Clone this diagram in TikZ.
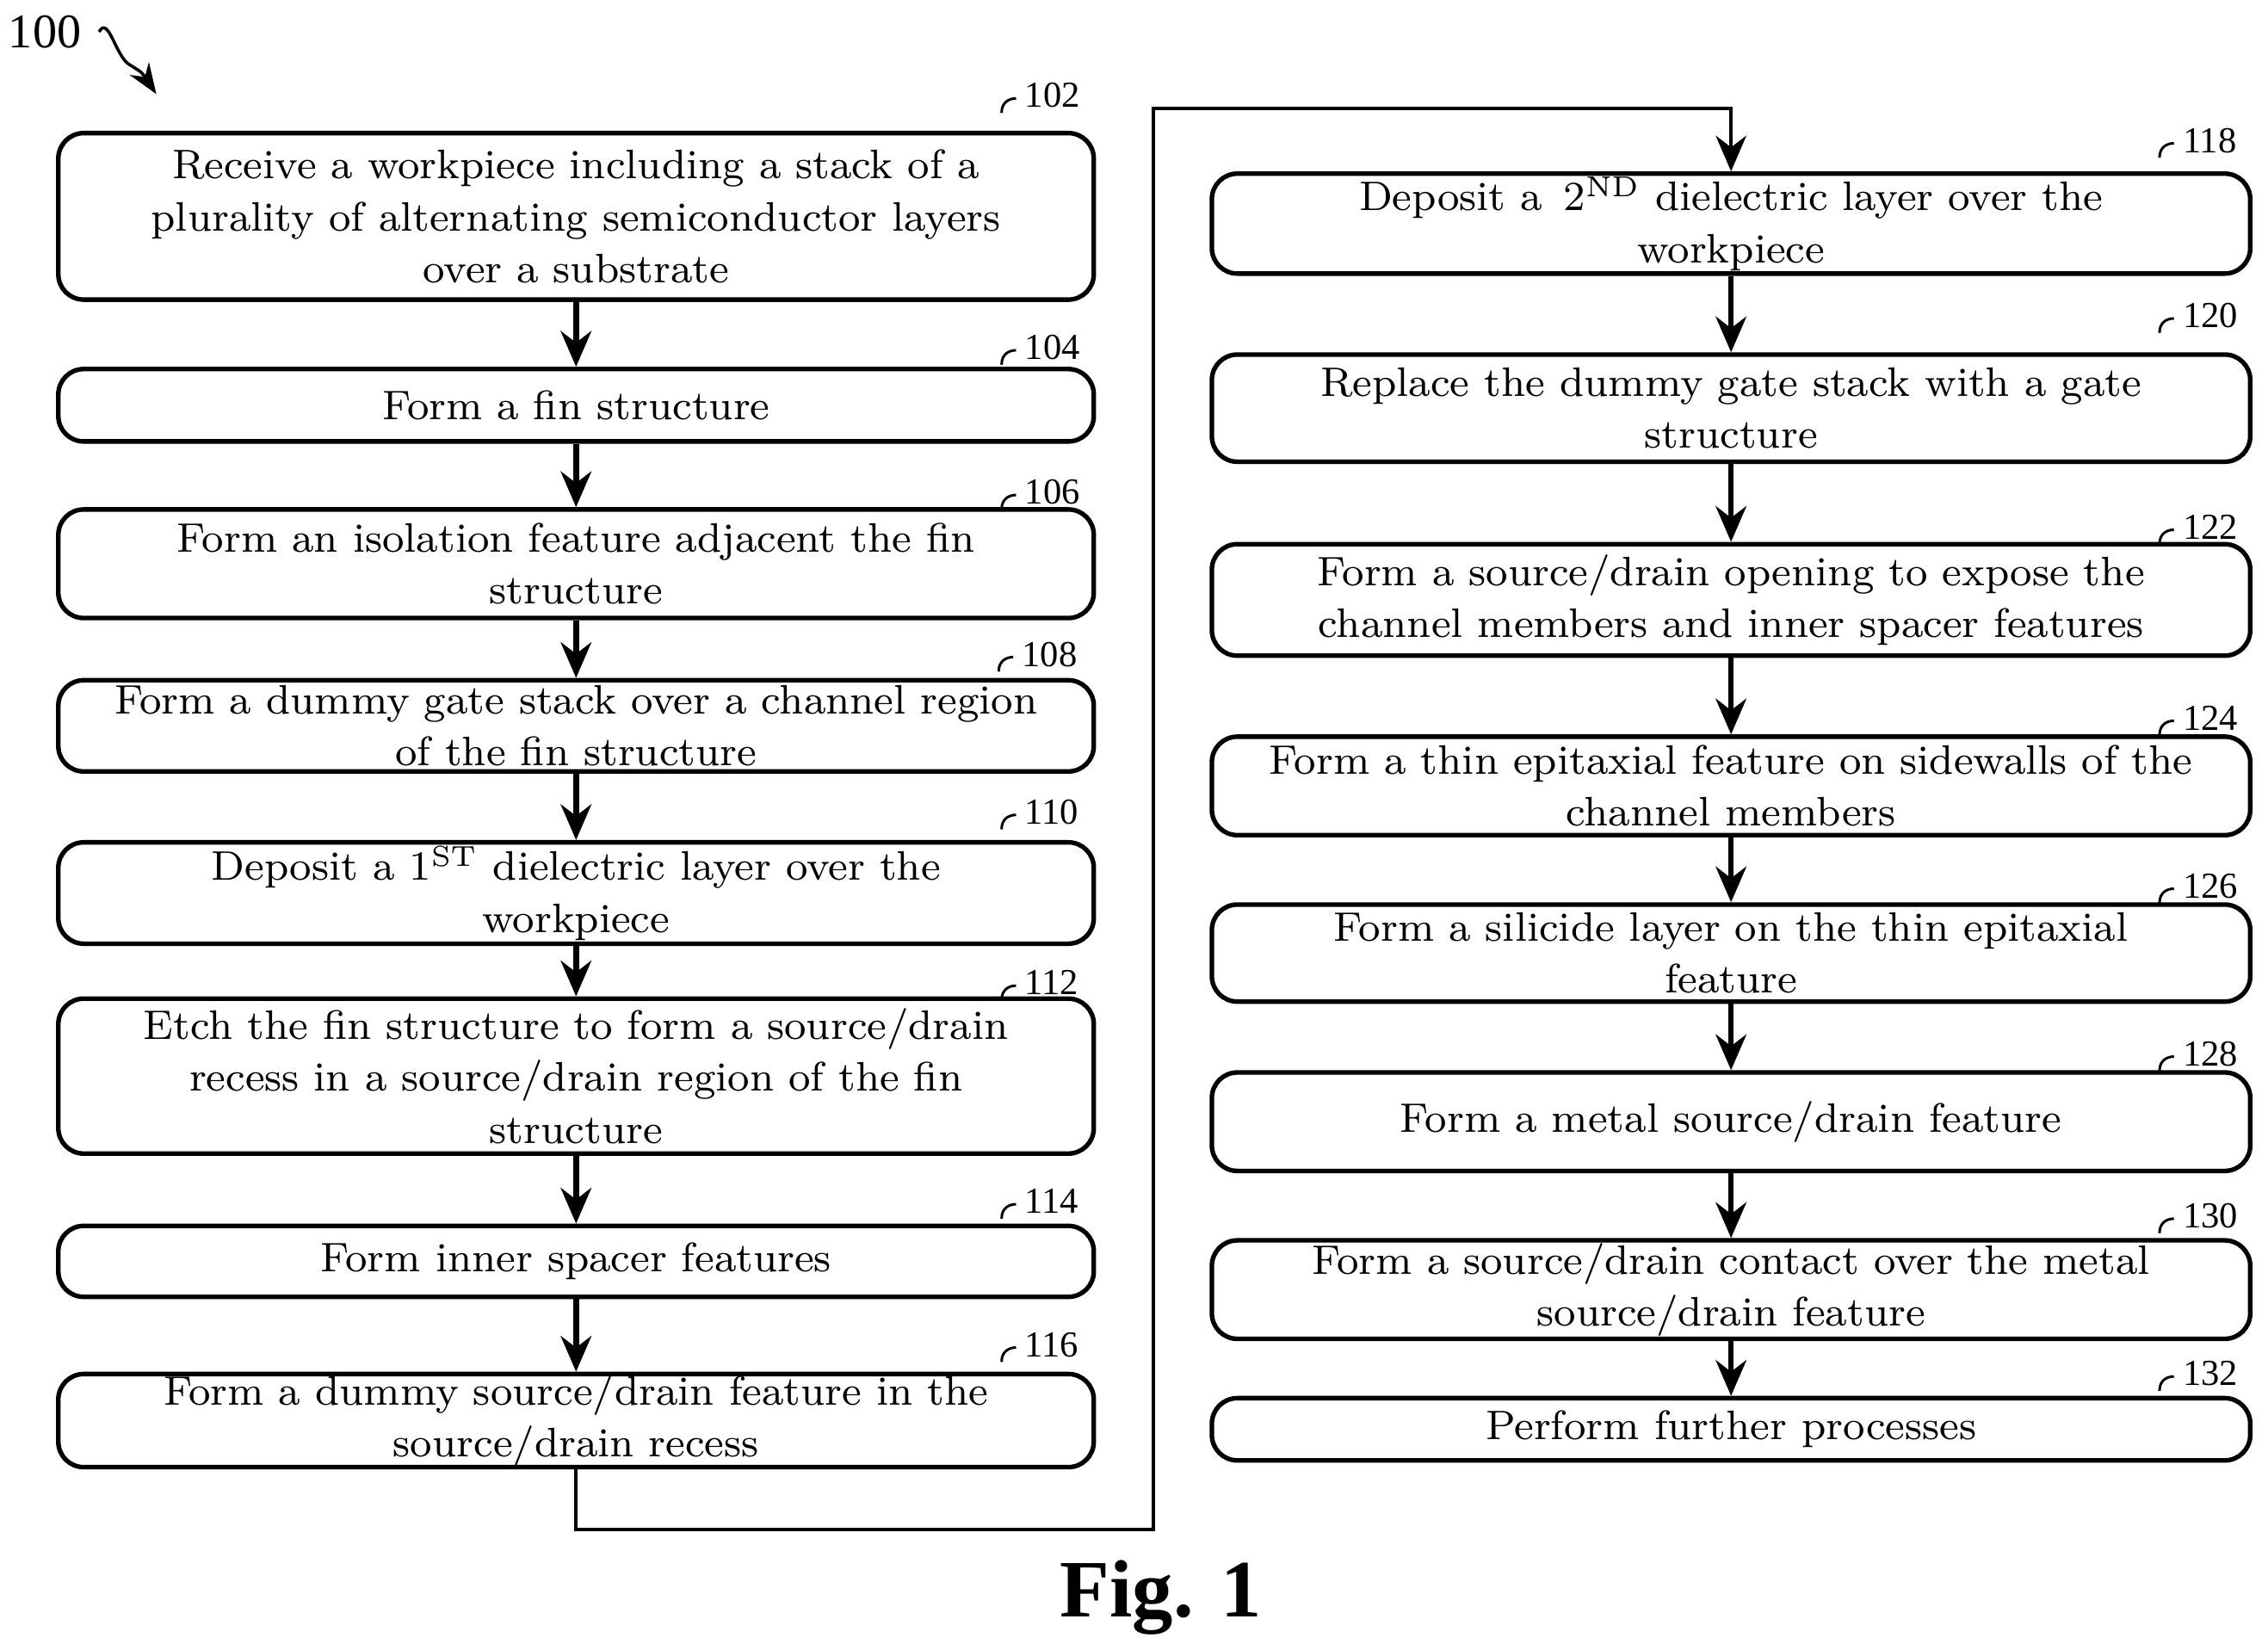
\documentclass[tikz,border=0pt]{standalone}
\usepackage{fontspec}
\setmainfont{Liberation Serif}
\newfontfamily\lmsc{Latin Modern Roman}
\usetikzlibrary{arrows.meta,calc}
\begin{document}
\begin{tikzpicture}[x=0.01cm,y=-0.01cm,
 box/.style={draw,line width=0.9pt,rounded corners=5pt,align=center,inner sep=0pt,
   font=\lmsc\fontsize{8.1}{10.2}\selectfont\scshape},
 lb/.style={font=\fontsize{7.2}{8}\selectfont,inner sep=1pt},
 ar/.style={line width=1.1pt,-{Stealth[length=7pt,width=6pt]}}]
\useasboundingbox (0,0) rectangle (1567,1140);
\newcommand\bx[7]{\node[box,minimum width=#4cm,minimum height=#5cm] (#1) at (#2,#3) {#6};
 \node[lb,anchor=west] (l#1) at (#7) {#1};
 \draw[line width=0.5pt] ($(l#1.west)+(-12,12)$) .. controls +(0,-8) and +(-4,0) .. ($(l#1.west)+(-2,2)$);}
\bx{102}{398}{149.5}{7.15}{1.15}{Receive a workpiece including a stack of a\\plurality of alternating semiconductor layers\\over a substrate}{704,66}
\bx{104}{398}{280}{7.15}{0.50}{Form a fin structure}{704,240}
\bx{106}{398}{389.5}{7.15}{0.75}{Form an isolation feature adjacent the fin\\structure}{704,340}
\bx{108}{398}{501.5}{7.15}{0.63}{Form a dummy gate stack over a channel region\\of the fin structure}{702,452}
\bx{110}{398}{617}{7.15}{0.70}{Deposit a 1\textsuperscript{ST} dielectric layer over the\\workpiece}{704,561}
\bx{112}{398}{743.5}{7.15}{1.07}{Etch the fin structure to form a source/drain\\recess in a source/drain region of the fin\\structure}{704,679}
\bx{114}{398}{871.5}{7.15}{0.49}{Form inner spacer features}{704,830}
\bx{116}{398}{981.5}{7.15}{0.63}{Form a dummy source/drain feature in the\\source/drain recess}{704,929}
\bx{118}{1196}{154.5}{7.17}{0.69}{Deposit a \,2\textsuperscript{ND} dielectric layer over the\\workpiece}{1504,97}
\bx{120}{1196}{282}{7.17}{0.74}{Replace the dummy gate stack with a gate\\structure}{1504,218}
\bx{122}{1196}{414.5}{7.17}{0.77}{Form a source/drain opening to expose the\\channel members and inner spacer features}{1504,364}
\bx{124}{1196}{543}{7.17}{0.68}{Form a thin epitaxial feature on sidewalls of the\\channel members}{1504,496}
\bx{126}{1196}{658.5}{7.17}{0.67}{Form a silicide layer on the thin epitaxial\\feature}{1504,612}
\bx{128}{1196}{775}{7.17}{0.68}{Form a metal source/drain feature}{1504,728}
\bx{130}{1196}{891}{7.17}{0.68}{Form a source/drain contact over the metal\\source/drain feature}{1504,840}
\bx{132}{1196}{987.5}{7.17}{0.43}{Perform further processes}{1504,949}
\foreach \a/\b in {102/104,104/106,106/108,108/110,110/112,112/114,114/116,118/120,120/122,122/124,124/126,126/128,128/130,130/132}
  \draw[ar] (\a.south) -- (\b.north);
\coordinate (c1) at (398,1057); \coordinate (c2) at (797,1057);
\coordinate (c3) at (797,75); \coordinate (c4) at (1196,75);
\draw[ar,line width=0.7pt] (116.south) -- (c1) -- (c2) -- (c3) -- (c4) -- (118.north);
\node[font=\fontsize{9.5}{10}\selectfont] (n100) at (31,22) {100};
\coordinate (t100) at (108,65);
\draw[line width=0.6pt,-{Stealth[length=6pt]}] (n100.east) .. controls (75,10) and (80,40) .. (90,45) .. controls (98,50) .. (t100);
\node[font=\fontsize{16}{18}\selectfont\bfseries] (fig) at (802,1104) {Fig. 1};
\end{tikzpicture}
\end{document}
